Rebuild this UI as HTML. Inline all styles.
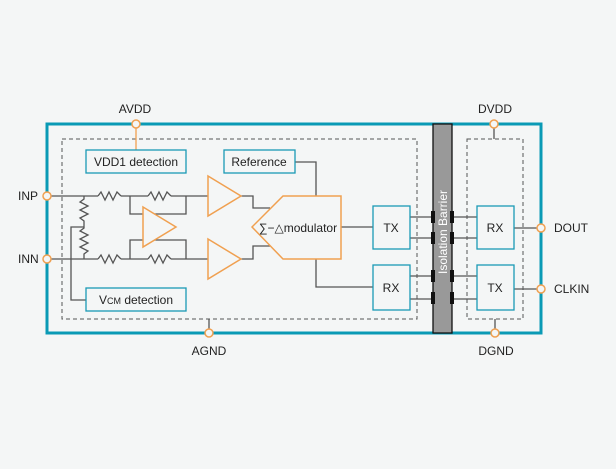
<!DOCTYPE html>
<html><head><meta charset="utf-8"><style>
html,body{margin:0;padding:0;background:#f4f6f6}
svg{display:block}
text{font-family:"Liberation Sans",Arial,sans-serif;fill:#222}
</style></head><body>
<svg width="616" height="469" viewBox="0 0 616 469" xmlns="http://www.w3.org/2000/svg">
<rect width="616" height="469" fill="#f4f6f6"/>
<!-- dashed boxes -->
<rect x="62" y="139" width="355" height="180" fill="none" stroke="#555" stroke-width="1" stroke-dasharray="4,3"/>
<rect x="467" y="139" width="56" height="180" fill="none" stroke="#555" stroke-width="1" stroke-dasharray="4,3"/>
<g stroke="#555" stroke-width="1.3" fill="none">
<!-- input lines -->
<polyline points="47,196 98,196"/>
<polyline points="121,196 148,196"/>
<polyline points="171,196 208,196"/>
<polyline points="47,259 98,259"/>
<polyline points="121,259 148,259"/>
<polyline points="171,259 208,259"/>
<!-- resistors -->
<polyline points="98,196 101,192 105,200 109,192 113,200 117,192 121,196"/>
<polyline points="148,196 151,192 155,200 159,192 163,200 167,192 171,196"/>
<polyline points="98,259 101,255 105,263 109,255 113,263 117,255 121,259"/>
<polyline points="148,259 151,255 155,263 159,255 163,263 167,255 171,259"/>
<polyline points="84,196 84,199 80,202 88,206 80,210 88,214 80,218 84,221 84,228 80,231 88,235 80,239 88,243 80,247 88,251 84,254 84,259"/>
<!-- feedback -->
<polyline points="130,196 130,214 186,214 186,196"/>
<polyline points="130,259 130,240 186,240 186,259"/>
<!-- vcm -->
<polyline points="84,227 71,227 71,300 86,300"/>
<!-- opamp outputs -->
<polyline points="241,196 253,196 253,208 270,208"/>
<polyline points="241,259 253,259 253,246 270,246"/>
<polyline points="295,162 316,162 316,196"/>
<polyline points="316,259 316,287 373,287"/>
<polyline points="341,227 373,227"/>
<!-- TX/RX lines -->
<line x1="410" y1="217" x2="433" y2="217"/><line x1="410" y1="238" x2="433" y2="238"/>
<line x1="410" y1="276" x2="433" y2="276"/><line x1="410" y1="299" x2="433" y2="299"/>
<line x1="452" y1="217" x2="477" y2="217"/><line x1="452" y1="238" x2="477" y2="238"/>
<line x1="452" y1="276" x2="477" y2="276"/><line x1="452" y1="299" x2="477" y2="299"/>
<line x1="514" y1="228" x2="541" y2="228"/><line x1="514" y1="289" x2="541" y2="289"/>
<line x1="209" y1="319" x2="209" y2="333"/>
<line x1="494" y1="124" x2="494" y2="139"/>
<line x1="495" y1="319" x2="495" y2="333"/>
</g>
<line x1="136" y1="124" x2="136" y2="150" stroke="#f0a050" stroke-width="1.3"/>
<!-- opamps -->
<g fill="#f4f6f6" stroke="#f0a050" stroke-width="1.5">
<polygon points="143,207 176,227 143,247"/>
<polygon points="208,176 241,196 208,216"/>
<polygon points="208,239 241,259 208,279"/>
<polygon points="252,227 283,196 341,196 341,259 283,259"/>
</g>
<text x="298" y="232" font-size="12" text-anchor="middle">∑−△modulator</text>
<!-- boxes -->
<g fill="#f4f6f6" stroke="#1a9ab5" stroke-width="1.3">
<rect x="86" y="150" width="100" height="23"/>
<rect x="224" y="150" width="71" height="23"/>
<rect x="86" y="288" width="100" height="23"/>
<rect x="373" y="206" width="37" height="43"/>
<rect x="373" y="265" width="37" height="45"/>
<rect x="477" y="206" width="37" height="43"/>
<rect x="477" y="265" width="37" height="45"/>
</g>
<g font-size="12">
<text x="136" y="166" text-anchor="middle">VDD1 detection</text>
<text x="259" y="166" text-anchor="middle">Reference</text>
<text x="136" y="304" text-anchor="middle">V<tspan font-size="9">CM</tspan> detection</text>
<text x="391" y="232" text-anchor="middle">TX</text>
<text x="391" y="292" text-anchor="middle">RX</text>
<text x="495" y="232" text-anchor="middle">RX</text>
<text x="495" y="292" text-anchor="middle">TX</text>
<text x="135" y="113" text-anchor="middle">AVDD</text>
<text x="209" y="355" text-anchor="middle">AGND</text>
<text x="495" y="113" text-anchor="middle">DVDD</text>
<text x="496" y="355" text-anchor="middle">DGND</text>
<text x="18" y="200">INP</text>
<text x="18" y="263">INN</text>
<text x="554" y="232">DOUT</text>
<text x="554" y="293">CLKIN</text>
</g>
<!-- outer box -->
<rect x="47" y="124" width="494" height="209" fill="none" stroke="#0a9ab5" stroke-width="3"/>
<!-- barrier -->
<rect x="433" y="124" width="19" height="209" fill="#999" stroke="#111" stroke-width="1.3"/>
<g fill="#111">
<rect x="431" y="211" width="4" height="12"/><rect x="431" y="232" width="4" height="12"/>
<rect x="431" y="270" width="4" height="12"/><rect x="431" y="292" width="4" height="12"/>
<rect x="450" y="211" width="4" height="12"/><rect x="450" y="232" width="4" height="12"/>
<rect x="450" y="270" width="4" height="12"/><rect x="450" y="292" width="4" height="12"/>
</g>
<text x="0" y="0" font-size="12" fill="#fff" style="fill:#fff" text-anchor="middle" transform="translate(447,232) rotate(-90)">Isolation Barrier</text>
<!-- pins -->
<g fill="#f4f6f6" stroke="#f0a050" stroke-width="1.5">
<circle cx="136" cy="124" r="4"/><circle cx="209" cy="333" r="4"/>
<circle cx="494" cy="124" r="4"/><circle cx="495" cy="333" r="4"/>
<circle cx="47" cy="196" r="4"/><circle cx="47" cy="259" r="4"/>
<circle cx="541" cy="228" r="4"/><circle cx="541" cy="289" r="4"/>
</g>
</svg>
</body></html>
